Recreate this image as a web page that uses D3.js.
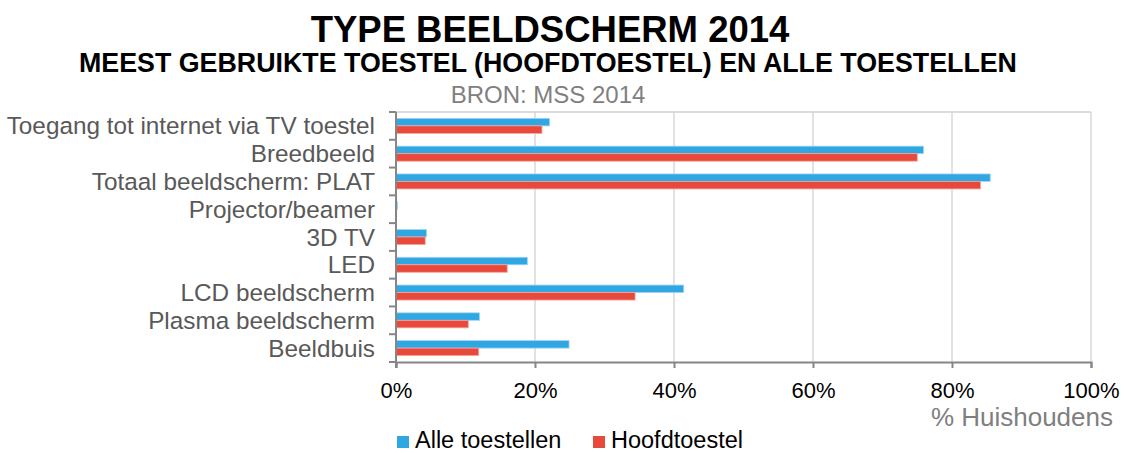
<!DOCTYPE html>
<html>
<head>
<meta charset="utf-8">
<script src="https://cdn.jsdelivr.net/npm/d3@7"></script>
<style>
  body { margin: 0; background: #fff; }
  text { font-family: "Liberation Sans", Arial, sans-serif; }
</style>
</head>
<body>
<script>
// data
const categories = [
  "Toegang tot internet via TV toestel",
  "Breedbeeld",
  "Totaal beeldscherm: PLAT",
  "Projector/beamer",
  "3D TV",
  "LED",
  "LCD beeldscherm",
  "Plasma beeldscherm",
  "Beeldbuis"
]
const series = ["Alle toestellen", "Hoofdtoestel"]
const alleToestellen = [22.1, 75.9, 85.5, 0.2, 4.4, 18.9, 41.4, 12.0, 24.9]
const hoofdtoestel   = [21.0, 75.0, 84.1, 0.1, 4.2, 16.0, 34.4, 10.4, 11.9]
const xTicks = [0, 20, 40, 60, 80, 100]
const colors = ["#30a7e2", "#e8493a"]

const width = 1124, height = 453
const margin = {top: 112, right: 33, bottom: 91, left: 396}
const plotW = width - margin.left - margin.right
const plotH = height - margin.top - margin.bottom

const data = categories.map((c, i) => ({cat: c, vals: [alleToestellen[i], hoofdtoestel[i]]}))

const svg = d3.select('body').append('svg')
    .attr('width', width)
    .attr('height', height)

// titles
svg.append('text')
    .attr('x', 550).attr('y', 42)
    .attr('text-anchor', 'middle')
    .style('font-size', '36.5px').style('font-weight', 'bold')
    .attr('fill', '#000')
    .text('TYPE BEELDSCHERM 2014')

svg.append('text')
    .attr('x', 548).attr('y', 72)
    .attr('text-anchor', 'middle')
    .style('font-size', '26.8px').style('font-weight', 'bold')
    .attr('fill', '#000')
    .text('MEEST GEBRUIKTE TOESTEL (HOOFDTOESTEL) EN ALLE TOESTELLEN')

svg.append('text')
    .attr('x', 548).attr('y', 103)
    .attr('text-anchor', 'middle')
    .style('font-size', '24px')
    .attr('fill', '#808080')
    .text('BRON: MSS 2014')

// scales
const xScale = d3.scaleLinear()
    .domain([0, 100])
    .range([margin.left, margin.left + plotW])

const yScale = d3.scaleBand()
    .domain(categories)
    .range([margin.top, margin.top + plotH])
    .paddingInner(0.46)
    .paddingOuter(0.23)

const ySub = d3.scaleBand()
    .domain(series)
    .range([0, yScale.bandwidth()])

const step = yScale.step()

// gridlines + plot border
svg.append('g')
    .selectAll('line')
    .data(xTicks.slice(1))
    .enter()
    .append('line')
        .attr('x1', d => xScale(d)).attr('x2', d => xScale(d))
        .attr('y1', margin.top).attr('y2', margin.top + plotH)
        .attr('stroke', '#d9d9d9').attr('stroke-width', 1.5)

svg.append('line')
    .attr('x1', margin.left).attr('x2', margin.left + plotW)
    .attr('y1', margin.top).attr('y2', margin.top)
    .attr('stroke', '#d0d0d0').attr('stroke-width', 1.5)

// bars
const groups = svg.append('g')
    .selectAll('g')
    .data(data)
    .enter()
    .append('g')
        .attr('transform', d => 'translate(0,' + yScale(d.cat) + ')')

groups.selectAll('rect')
    .data(d => d.vals.map((v, i) => ({key: series[i], v: v, i: i})))
    .enter()
    .append('rect')
        .attr('x', xScale(0))
        .attr('y', d => ySub(d.key))
        .attr('width', d => xScale(d.v) - xScale(0))
        .attr('height', ySub.bandwidth())
        .attr('fill', d => colors[d.i])
        .attr('stroke', d => d.i == 0 ? '#9ed6f2' : '#f3a59d')
        .attr('stroke-width', 0.8)

// y axis: line, ticks at category boundaries, labels
svg.append('line')
    .attr('x1', margin.left).attr('x2', margin.left)
    .attr('y1', margin.top).attr('y2', margin.top + plotH + 6)
    .attr('stroke', '#868686').attr('stroke-width', 2)

svg.append('g')
    .selectAll('line')
    .data(d3.range(categories.length + 1))
    .enter()
    .append('line')
        .attr('x1', margin.left - 7).attr('x2', margin.left)
        .attr('y1', i => margin.top + i * step).attr('y2', i => margin.top + i * step)
        .attr('stroke', '#868686').attr('stroke-width', 2)

svg.append('g')
    .selectAll('text')
    .data(categories)
    .enter()
    .append('text')
        .attr('x', 375)
        .attr('y', d => yScale(d) + yScale.bandwidth() / 2)
        .attr('dy', '0.35em')
        .attr('text-anchor', 'end')
        .attr('fill', '#595959')
        .style('font-size', '24.3px')
        .text(d => d)

// x axis
const xAxis = svg.append('g')
    .attr('transform', 'translate(0,' + (margin.top + plotH) + ')')
    .call(d3.axisBottom(xScale).tickValues(xTicks).tickFormat(d => d + '%').tickSizeOuter(0).tickSize(6).tickPadding(14))

xAxis.select('.domain').attr('stroke', '#868686').attr('stroke-width', 2)
xAxis.selectAll('.tick line').attr('stroke', '#868686').attr('stroke-width', 2)
xAxis.selectAll('.tick text')
    .attr('fill', '#000')
    .style('font-size', '22px')
    .style('font-family', '"Liberation Sans", Arial, sans-serif')

svg.append('text')
    .attr('x', 1113).attr('y', 426)
    .attr('text-anchor', 'end')
    .attr('fill', '#7f7f7f')
    .style('font-size', '26px')
    .text('% Huishoudens')

// legend
const legendX = [397, 593]
const legend = svg.append('g')
    .selectAll('g')
    .data(series)
    .enter()
    .append('g')
        .attr('transform', (d, i) => 'translate(' + legendX[i] + ',436)')

legend.append('rect')
    .attr('width', 12).attr('height', 12)
    .attr('fill', (d, i) => colors[i])

legend.append('text')
    .attr('x', 18).attr('y', 12)
    .attr('fill', '#000')
    .style('font-size', '23.5px')
    .text(d => d)
</script>
</body>
</html>
